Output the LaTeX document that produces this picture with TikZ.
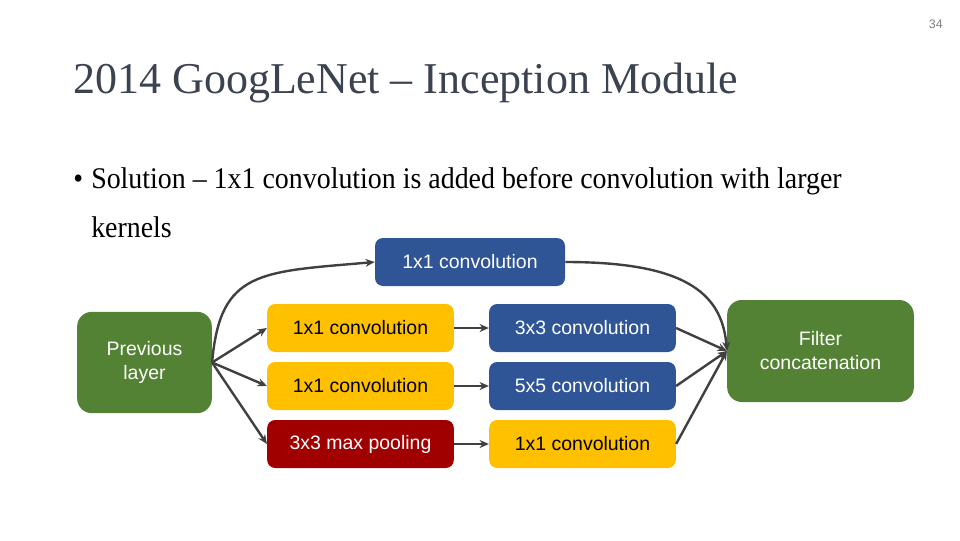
\documentclass[tikz,border=0pt]{standalone}
\usepackage{fontspec}
\setmainfont{Liberation Serif}
\setsansfont{Liberation Sans}
\newfontfamily\bodyfont[FakeStretch=0.93]{Liberation Serif}
\usetikzlibrary{arrows.meta}
\definecolor{incgreen}{RGB}{84,130,53}
\definecolor{incblue}{RGB}{47,85,151}
\definecolor{incyellow}{RGB}{255,192,0}
\definecolor{incred}{RGB}{160,0,0}
\definecolor{titlegray}{RGB}{59,66,80}
\definecolor{linkgray}{RGB}{64,64,64}

\begin{document}
\begin{tikzpicture}
  [x=0.75pt, y=0.75pt,
  box/.style={rounded corners=6pt, minimum width=140pt, minimum height=36pt, inner sep=0pt,
    font=\sffamily\fontsize{14.6}{18}\selectfont, align=center},
  bluebox/.style={box, fill=incblue, text=white},
  yellowbox/.style={box, fill=incyellow, text=black},
  redbox/.style={box, fill=incred, text=white},
  greenbox/.style={box, fill=incgreen, text=white, rounded corners=11pt},
  link/.style={draw=linkgray, line width=1.8pt, -{Stealth[length=7pt,width=6pt]}}]
  \useasboundingbox (0,0) rectangle (960,540);
  \node[anchor=base east, inner sep=0pt, text=gray, font=\sffamily\fontsize{9.3}{11}\selectfont] (page) at (943,511) {34};
  \node[anchor=base west, inner sep=0pt, text=titlegray, font=\fontsize{33}{36}\selectfont] (title) at (73,446) {2014 GoogLeNet – Inception Module};
  \node[anchor=base west, inner sep=0pt, font=\bodyfont\fontsize{22.5}{26}\selectfont] (bullet) at (73,351) {•};
  \node[anchor=base west, inner sep=0pt, font=\bodyfont\fontsize{22.5}{26}\selectfont] (solution) at (91,351) {Solution – 1x1 convolution is added before convolution with larger};
  \node[anchor=base west, inner sep=0pt, font=\bodyfont\fontsize{22.5}{26}\selectfont] (kernels) at (91,303) {kernels};
  % inception module
  \node[greenbox, minimum width=101pt, minimum height=76pt] (prev) at (144.5,177.5) {Previous\\layer};
  \node[bluebox, minimum width=142.5pt] (top) at (470,278) {1x1 convolution};
  \node[yellowbox] (a1) at (360.5,212) {1x1 convolution};
  \node[yellowbox] (a2) at (360.5,154) {1x1 convolution};
  \node[redbox] (a3) at (360.5,96) {3x3 max pooling};
  \node[bluebox] (b1) at (582.5,212) {3x3 convolution};
  \node[bluebox] (b2) at (582.5,154) {5x5 convolution};
  \node[yellowbox] (b3) at (582.5,96) {1x1 convolution};
  \node[greenbox, minimum height=76.5pt] (concat) at (820.5,189) {Filter\\concatenation};
  \foreach \n in {a1,a2,a3}
    \draw[link] (prev.east) -- (\n.west);
  \draw[link] (prev.east) .. controls (220,270) and (260,268) .. (top.west);
  \foreach \l/\r in {a1/b1,a2/b2,a3/b3}
    \draw[link] (\l.east) -- (\r.west);
  \foreach \n in {b1,b2,b3}
    \draw[link] (\n.east) -- (concat.west);
  \draw[link] (top.east) .. controls (680,278) and (722,250) .. (concat.west);
\end{tikzpicture}
\end{document}
